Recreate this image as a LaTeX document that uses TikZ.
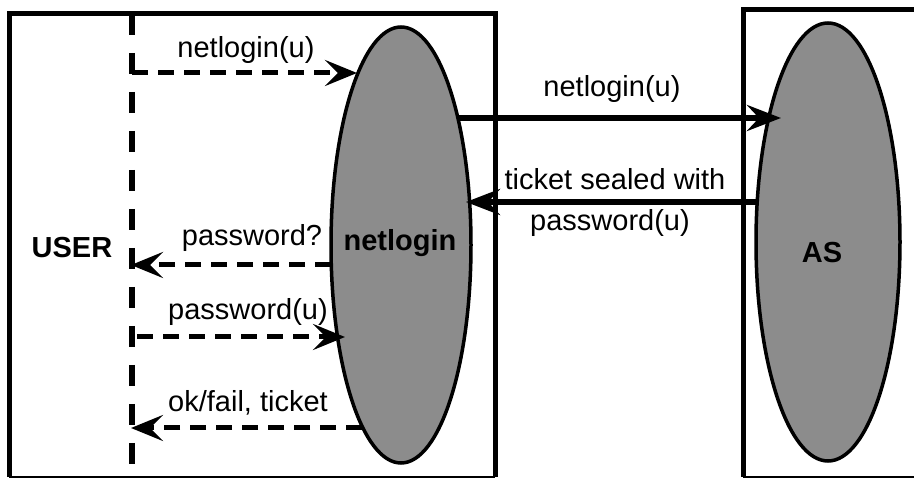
\documentclass[tikz,border=0pt]{standalone}
\usepackage{fontspec}
\setmainfont{Liberation Sans}
\usetikzlibrary{arrows.meta}
\begin{document}
\begin{tikzpicture}[x=1pt,y=-1pt,
  lbl/.style={font=\fontsize{29}{42}\selectfont, inner sep=0pt, anchor=base},
  blbl/.style={font=\fontsize{29}{34}\selectfont\bfseries, inner sep=0pt, anchor=base},
  boxline/.style={line width=5pt},
  blob/.style={draw, line width=3.5pt, fill=black!45},
  msg/.style={line width=5pt, dash pattern=on 16pt off 10pt,
    -{Stealth[length=32pt,width=26pt,inset=13pt]}},
  solidmsg/.style={line width=5.5pt, -{Stealth[length=34pt,width=26pt,inset=12pt]}},
  lifeline/.style={line width=5.5pt, dash pattern=on 21pt off 18pt}
]
\useasboundingbox (0,0) rectangle (914,478);
% boxes
\draw[boxline] (9,477) -- (9,14) -- (495,14) -- (495,477);
\draw[line width=2pt] (9,477) -- (495,477);
\draw[boxline] (743,477) -- (743,10) -- (914,10);
\draw[line width=1.5pt] (743,477) -- (914,477);
% ellipses
\draw[blob] (401,245) ellipse [x radius=70, y radius=218];
\draw[blob] (828,242) ellipse [x radius=72, y radius=219];
% user lifeline
\coordinate (ltop) at (132,14);
\coordinate (lbot) at (132,478);
\draw[lifeline] (ltop) -- (lbot);
% points
\coordinate (u1) at (132,73);
\coordinate (n1) at (357,73);
\coordinate (n2) at (331,265);
\coordinate (u2) at (131,265);
\coordinate (u3) at (137,337);
\coordinate (n3) at (345,337);
\coordinate (n4) at (362,428);
\coordinate (u4) at (131,428);
\coordinate (n5) at (458,118);
\coordinate (a5) at (781,118);
\coordinate (a6) at (756,202);
\coordinate (n6) at (466,202);
% messages
\draw[msg] (u1) -- (n1);
\draw[msg] (n2) -- (u2);
\draw[msg] (u3) -- (n3);
\draw[msg] (n4) -- (u4);
\draw[solidmsg] (n5) -- (a5);
\draw[solidmsg] (a6) -- (n6);
% labels
\node[lbl] (l1) at (246,58) {netlogin(u)};
\node[lbl] (l2) at (252,246) {password?};
\node[lbl] (l3) at (248,320) {password(u)};
\node[lbl] (l4) at (248,412) {ok/fail, ticket};
\node[lbl] (l5) at (612,97) {netlogin(u)};
\node[lbl] (l6) at (615,190) {ticket sealed with};
\node[lbl] (l7) at (610,231) {password(u)};
\node[blbl] (user) at (72,258) {USER};
\node[blbl] (nl) at (400,251) {netlogin};
\node[blbl] (as) at (822,263) {AS};
\end{tikzpicture}
\end{document}
